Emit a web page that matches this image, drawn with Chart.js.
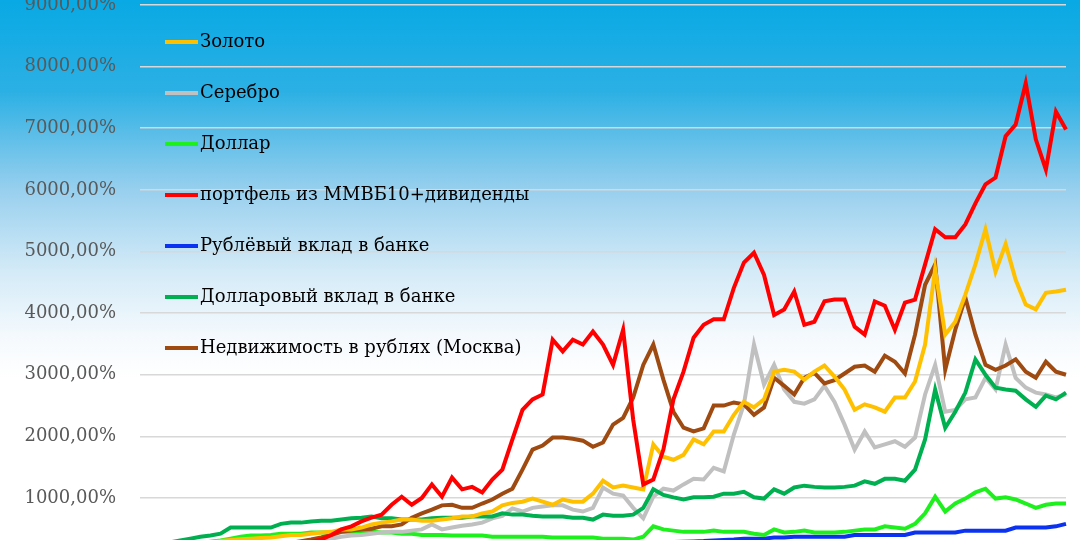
<!DOCTYPE html>
<html><head><meta charset="utf-8">
<script src="https://cdn.jsdelivr.net/npm/chart.js@4"></script>
<style>html,body{margin:0;padding:0;background:#fff;overflow:hidden}#w{width:1080px;height:540px}</style>
</head><body><div id="w"><canvas id="c"></canvas></div>
<script>
const seriesNames = ["Золото","Серебро","Доллар","портфель из ММВБ10+дивиденды","Рублёвый вклад в банке","Долларовый вклад в банке","Недвижимость в рублях (Москва)"];
const yTicks = [1000,2000,3000,4000,5000,6000,7000,8000,9000];
const periods = Array.from({length:93},(_, i)=>String(i));

const gold = [150,160,180,200,220,240,260,280,300,320,330,340,350,360,380,400,400,420,440,450,490,490,520,570,600,620,650,650,630,630,650,670,700,700,750,780,880,920,940,990,940,890,975,940,940,1070,1280,1170,1200,1170,1140,1870,1670,1620,1700,1950,1870,2080,2080,2350,2560,2470,2600,3050,3080,3050,2920,3050,3150,2970,2760,2430,2520,2470,2400,2630,2630,2890,3490,4710,3650,3860,4300,4790,5360,4670,5120,4540,4140,4060,4330,4350,4380];
const silver = [100,110,120,130,140,150,160,170,180,190,200,210,220,230,240,260,280,300,325,340,370,390,400,420,440,450,450,470,490,570,490,520,550,570,600,670,710,830,780,840,860,880,880,810,780,840,1170,1070,1040,840,670,1020,1150,1120,1220,1310,1300,1490,1430,2030,2520,3490,2840,3160,2760,2560,2530,2600,2820,2560,2190,1785,2080,1820,1870,1920,1830,1980,2680,3160,2400,2430,2600,2630,2950,2760,3490,2950,2790,2710,2680,2630,2680];
const dollar = [100,130,160,190,220,250,270,290,310,340,370,390,390,400,420,420,420,440,440,440,450,450,450,450,440,440,420,420,400,400,400,390,390,390,390,370,370,370,370,370,370,360,360,360,360,360,340,340,340,325,370,540,490,470,450,450,450,470,450,450,450,420,400,490,440,450,470,440,440,440,450,470,490,490,540,520,500,580,750,1020,780,910,990,1090,1150,990,1010,975,910,840,890,910,910];
const portfolio = [100,110,120,130,140,150,160,170,180,190,200,200,220,230,240,250,270,290,325,400,490,540,620,680,730,890,1020,890,1000,1220,1020,1330,1140,1180,1090,1300,1460,1950,2430,2600,2680,3570,3380,3570,3490,3700,3490,3160,3730,2270,1220,1300,1785,2600,3050,3600,3810,3900,3900,4410,4820,4980,4620,3970,4060,4350,3810,3860,4190,4220,4220,3780,3650,4190,4120,3730,4170,4220,4790,5360,5230,5230,5440,5780,6090,6200,6870,7060,7730,6820,6330,7270,6980];
const rubDeposit = [20,25,30,35,40,45,50,55,60,65,70,75,80,85,90,95,100,105,110,115,120,125,130,135,140,145,150,155,160,165,170,175,180,185,190,195,200,205,210,215,220,225,230,235,240,245,250,255,260,265,270,275,280,285,290,295,300,310,320,325,340,340,340,360,360,370,370,370,370,370,370,400,400,400,400,400,400,440,440,440,440,440,470,470,470,470,470,520,520,520,520,540,580];
const usdDeposit = [150,200,240,280,310,340,370,390,420,520,520,520,520,520,580,600,600,620,630,630,650,670,680,700,670,670,650,650,650,670,680,680,680,700,700,700,750,730,730,710,700,700,700,680,680,650,730,710,710,730,840,1140,1050,1010,975,1010,1010,1020,1070,1070,1100,1010,990,1140,1070,1170,1200,1180,1170,1170,1180,1200,1270,1230,1310,1310,1280,1460,1950,2760,2140,2400,2710,3250,3000,2790,2760,2740,2600,2480,2660,2600,2710];
const realty = [100,110,120,130,140,150,160,170,180,190,200,210,220,230,250,270,300,325,360,400,450,470,490,500,540,540,570,680,750,810,880,890,840,840,910,975,1070,1150,1460,1785,1850,1980,1980,1960,1930,1830,1900,2190,2300,2630,3160,3490,2920,2400,2140,2080,2130,2500,2500,2550,2520,2350,2470,2950,2820,2680,2950,3030,2860,2910,3020,3130,3150,3050,3310,3210,3020,3650,4460,4790,3080,3730,4250,3650,3160,3080,3150,3250,3050,2950,3210,3050,3000];

const seriesData = [gold, silver, dollar, portfolio, rubDeposit, usdDeposit, realty];
const colors = ["#FFC000","#C0C0C0","#1EF01E","#FF0000","#0A32F0","#00B050","#9E4A10"];
const drawOrder = [4,2,1,5,6,0,3];

const bgPlugin = {
  id:'bg',
  beforeDraw(chart){
    const {ctx,width,height} = chart;
    const g = ctx.createLinearGradient(0,0,0,height);
    g.addColorStop(0,'#08a9e4');
    g.addColorStop(0.17,'#2cb0e4');
    g.addColorStop(0.35,'#97cfee');
    g.addColorStop(0.5,'#d3eaf7');
    g.addColorStop(0.62,'#f4f9fd');
    g.addColorStop(0.7,'#ffffff');
    g.addColorStop(1,'#ffffff');
    ctx.save(); ctx.fillStyle=g; ctx.fillRect(0,0,width,height); ctx.restore();
  }
};
const legendPlugin = {
  id:'customLegend',
  afterDraw(chart){
    const ctx = chart.ctx;
    ctx.save();
    ctx.font = '18px "DejaVu Serif"';
    ctx.textBaseline='middle';
    seriesNames.forEach((n,i)=>{
      const y = 42 + i*51;
      ctx.strokeStyle = colors[i]; ctx.lineWidth=4;
      ctx.beginPath(); ctx.moveTo(165,y); ctx.lineTo(198,y); ctx.stroke();
      ctx.fillStyle='#000'; ctx.fillText(n,200,y);
    });
    ctx.restore();
  }
};

new Chart(document.getElementById('c'),{
  type:'line',
  data:{labels:periods, datasets: drawOrder.map((k,j)=>({
    label:seriesNames[k], data:seriesData[k], borderColor:colors[k], backgroundColor:colors[k],
    borderWidth:4, pointRadius:0, tension:0, order: 10-j
  }))},
  options:{
    responsive:true, maintainAspectRatio:false, animation:false,
    layout:{padding:{left:0,right:14,top:0,bottom:0}},
    plugins:{legend:{display:false}, tooltip:{enabled:false}},
    scales:{
      x:{display:false, offset:false, afterFit(s){ s.height=0; }},
      y:{min:318, max:9081,
        afterBuildTicks(s){ s.ticks = yTicks.map(v=>({value:v})); },
        afterFit(s){ s.width = 140; s.paddingTop = 0; s.paddingBottom = 0; },
        border:{display:false},
        grid:{color:'#d8d8d8', lineWidth:1.5, drawTicks:false},
        ticks:{padding:24, color:'#595959', font:{family:'DejaVu Serif', size:18},
          callback:v=>v+',00%'}
      }
    }
  },
  plugins:[bgPlugin, legendPlugin]
});
</script></body></html>
